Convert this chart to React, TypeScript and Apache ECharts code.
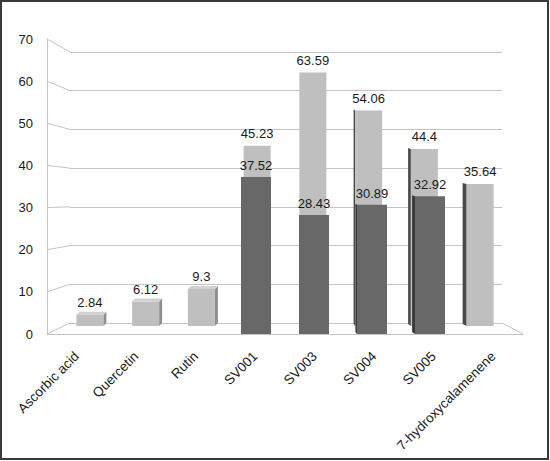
import { useEffect, useRef } from 'react';
import * as echarts from 'echarts';

const categories = [
  'Ascorbic acid',
  'Quercetin',
  'Rutin',
  'SV001',
  'SV003',
  'SV004',
  'SV005',
  '7-hydroxycalamenene',
];
const lightValues = [2.84, 6.12, 9.3, 45.23, 63.59, 54.06, 44.4, 35.64];
const darkValues = [null, null, null, 37.52, 28.43, 30.89, 32.92, null];
const yTicks = [0, 10, 20, 30, 40, 50, 60, 70];

const FONT = '"Liberation Sans", Arial, sans-serif';
const LINE = '#c4c4c4';
const LIGHT = '#bfbfbf';
const DARK = '#686868';

// fake 3D: back wall, front frame, and two depth rows of bars
const wall = { left: 70, right: 48, top: 52, bottom: 138 };
const frame = { left: 47, right: 27, top: 39, bottom: 127 };
const lightGrid = { left: 62, right: 42, top: 47, bottom: 135 };
const darkGrid = { left: 53, right: 33, top: 41, bottom: 127 };
const LIGHT_W = 27;
const DARK_W = 30;

const valueAxis = (gridIndex: number, extra: object = {}) => ({
  type: 'value' as const,
  gridIndex,
  min: 0,
  max: 70,
  interval: 10,
  axisLabel: { show: false },
  axisTick: { show: false },
  axisLine: { show: false },
  splitLine: { show: false },
  ...extra,
});

const catAxis = (gridIndex: number, extra: object = {}) => ({
  type: 'category' as const,
  gridIndex,
  data: categories,
  axisLabel: { show: false },
  axisTick: { show: false },
  axisLine: { show: false },
  ...extra,
});

// side faces so the flat bars read like the perspective columns
const sideFaces = (barW: number, stripColor: string) => (params: any, api: any) => {
  const v = api.value(1);
  if (v == null || isNaN(v)) return null;
  const top = api.coord([api.value(0), v]);
  const base = api.coord([api.value(0), 0]);
  const l = top[0] - barW / 2;
  const r = top[0] + barW / 2;
  if (top[0] < 230) {
    return {
      type: 'group',
      children: [
        {
          type: 'polygon',
          shape: { points: [[r, top[1]], [r + 3, top[1] - 3], [r + 3, base[1] - 3], [r, base[1]]] },
          style: { fill: '#8e8e8e' },
        },
        {
          type: 'polygon',
          shape: { points: [[l, top[1]], [l + 3, top[1] - 3], [r + 3, top[1] - 3], [r, top[1]]] },
          style: { fill: '#d2d2d2' },
        },
      ],
    };
  }
  if (top[0] > 340) {
    const s = Math.min(4, Math.max(1.5, (top[0] - 300) / 45));
    return {
      type: 'polygon',
      shape: { points: [[l - s, top[1] - 1], [l, top[1]], [l, base[1]], [l - s, base[1] - 2]] },
      style: { fill: stripColor },
    };
  }
  return null;
};

export default function App() {
  const ref = useRef<HTMLDivElement | null>(null);

  useEffect(() => {
    if (!ref.current) return;
    const chart = echarts.init(ref.current, null, { renderer: 'svg' });

    const dataLabel = {
      show: true,
      position: 'top',
      color: '#1a1a1a',
      fontSize: 13,
      fontFamily: FONT,
    };

    chart.setOption({
      animation: false,
      grid: [wall, frame, lightGrid, darkGrid],
      xAxis: [
        catAxis(0),
        catAxis(1, {
          axisLine: { show: true, lineStyle: { color: LINE } },
          axisLabel: {
            show: true,
            rotate: 45,
            margin: 20,
            color: '#1a1a1a',
            fontSize: 13.5,
            fontFamily: FONT,
          },
        }),
        catAxis(2),
        catAxis(3),
      ],
      yAxis: [
        valueAxis(0, { splitLine: { show: true, lineStyle: { color: LINE } } }),
        valueAxis(1, {
          axisLine: { show: true, lineStyle: { color: LINE } },
          axisLabel: {
            show: true,
            margin: 14,
            color: '#1a1a1a',
            fontSize: 13,
            fontFamily: FONT,
          },
        }),
        valueAxis(2),
        valueAxis(3),
      ],
      series: [
        {
          type: 'custom',
          xAxisIndex: 2,
          yAxisIndex: 2,
          renderItem: sideFaces(LIGHT_W, '#4a4a4a'),
          data: lightValues.map((v, i) => [i, v]),
          silent: true,
          z: 2,
        },
        {
          type: 'bar',
          xAxisIndex: 2,
          yAxisIndex: 2,
          data: lightValues,
          barWidth: LIGHT_W,
          itemStyle: { color: LIGHT },
          label: { ...dataLabel, distance: 6 },
          z: 2,
        },
        {
          type: 'custom',
          xAxisIndex: 3,
          yAxisIndex: 3,
          renderItem: sideFaces(DARK_W, '#3a3a3a'),
          data: darkValues.map((v, i) => [i, v]),
          silent: true,
          z: 4,
        },
        {
          type: 'bar',
          xAxisIndex: 3,
          yAxisIndex: 3,
          data: darkValues,
          barWidth: DARK_W,
          itemStyle: { color: DARK },
          label: { ...dataLabel, distance: 5 },
          z: 4,
        },
      ],
    });

    // diagonal edges between the front frame and the back wall
    const W = 550;
    const edge = (x1: number, y1: number, x2: number, y2: number) => ({
      type: 'line',
      silent: true,
      shape: { x1, y1, x2, y2 },
      style: { stroke: LINE, lineWidth: 1 },
    });
    const connectors = yTicks.map((v) =>
      edge(
        frame.left,
        chart.convertToPixel({ yAxisIndex: 1 }, v),
        wall.left,
        chart.convertToPixel({ yAxisIndex: 0 }, v),
      ),
    );
    connectors.push(
      edge(
        W - frame.right,
        chart.convertToPixel({ yAxisIndex: 1 }, 0),
        W - wall.right,
        chart.convertToPixel({ yAxisIndex: 0 }, 0),
      ),
    );

    chart.setOption({
      graphic: [
        ...connectors,
        {
          type: 'rect',
          silent: true,
          shape: { x: 1, y: 1, width: 547, height: 458 },
          style: { fill: 'none', stroke: '#3a3a3a', lineWidth: 2 },
        },
      ],
    });

    return () => chart.dispose();
  }, []);

  return (
    <div style={{ position: 'fixed', left: 0, top: 0, width: 550, height: 461, background: '#fff' }}>
      <div ref={ref} style={{ width: 550, height: 461 }} />
    </div>
  );
}
